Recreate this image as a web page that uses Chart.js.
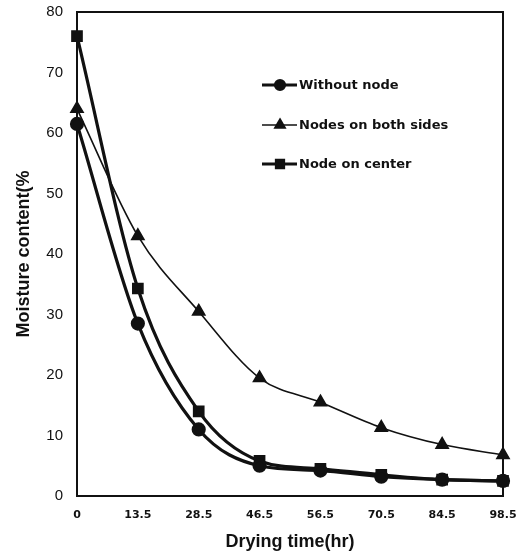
<!DOCTYPE html>
<html>
<head>
<meta charset="utf-8">
<script src="https://cdn.jsdelivr.net/npm/chart.js@4"></script>
<style>
  body { margin: 0; background: #fff; }
  #wrap { width: 522px; height: 557px; }
</style>
</head>
<body>
<div id="wrap"><canvas id="dryChart" width="522" height="557"></canvas></div>
<script>
const hours = ['0', '13.5', '28.5', '46.5', '56.5', '70.5', '84.5', '98.5'];
const withoutNode = [61.5, 28.5, 11, 5, 4.2, 3.2, 2.7, 2.5];
const bothSides = [64, 43, 30.5, 19.5, 15.5, 11.3, 8.5, 6.8];
const centerNode = [76, 34.3, 14, 5.8, 4.5, 3.5, 2.7, 2.5];
const yTicks = [0, 10, 20, 30, 40, 50, 60, 70, 80];

const ctx = document.getElementById('dryChart').getContext('2d');

// box round the plot plus the legend inside it
const framePlugin = {
    id: 'frame',
    afterDraw(chart) {
        const a = chart.chartArea;
        const c = chart.ctx;
        c.save();
        c.strokeStyle = '#111';
        c.lineWidth = 2;
        c.strokeRect(a.left, a.top, a.right - a.left, a.bottom - a.top);

        const rows = [
            { label: 'Without node', ds: 0, y: 85 },
            { label: 'Nodes on both sides', ds: 1, y: 125 },
            { label: 'Node on center', ds: 2, y: 164 }
        ];
        rows.forEach(r => {
            const d = chart.data.datasets[r.ds];
            c.strokeStyle = '#111';
            c.lineWidth = d.borderWidth;
            c.beginPath();
            c.moveTo(262, r.y);
            c.lineTo(297, r.y);
            c.stroke();
            Chart.helpers.drawPoint(c, {
                pointStyle: d.pointStyle,
                radius: d.pointRadius - 1,
                borderWidth: 1
            }, 280, r.y);
            c.fillStyle = '#111';
            c.font = 'bold 13px "DejaVu Sans", sans-serif';
            c.textBaseline = 'middle';
            c.textAlign = 'left';
            c.fillText(r.label, 299, r.y + 1);
        });
        c.restore();
    }
};

const common = {
    borderColor: '#111',
    backgroundColor: '#111',
    pointBorderColor: '#111',
    pointBackgroundColor: '#111',
    cubicInterpolationMode: 'monotone',
    clip: false
};

new Chart(ctx, {
    type: 'line',
    data: {
        labels: hours,
        datasets: [
            Object.assign({}, common, {
                label: 'Without node',
                data: withoutNode,
                borderWidth: 3.2,
                pointStyle: 'circle',
                pointRadius: 5.5
            }),
            Object.assign({}, common, {
                label: 'Nodes on both sides',
                data: bothSides,
                borderWidth: 1.6,
                pointStyle: 'triangle',
                pointRadius: 7
            }),
            Object.assign({}, common, {
                label: 'Node on center',
                data: centerNode,
                borderWidth: 3.2,
                pointStyle: 'rect',
                pointRadius: 6
            })
        ]
    },
    options: {
        responsive: false,
        animation: false,
        layout: { autoPadding: false, padding: { top: 12, right: 19, left: 0, bottom: 0 } },
        plugins: {
            legend: { display: false },
            tooltip: { enabled: false }
        },
        scales: {
            x: {
                type: 'category',
                offset: false,
                grid: { display: false, drawTicks: false },
                border: { display: false },
                ticks: {
                    color: '#111',
                    padding: 13,
                    maxRotation: 0,
                    autoSkip: false,
                    font: { family: '"DejaVu Sans", sans-serif', size: 11, weight: 'bold' }
                },
                title: {
                    display: true,
                    text: 'Drying time(hr)',
                    color: '#111',
                    padding: { top: 9 },
                    font: { family: 'Arial, "Liberation Sans", sans-serif', size: 18, weight: 'bold' }
                },
                afterFit(scale) {
                    scale.height = 61;
                    scale.paddingLeft = 0;
                    scale.paddingRight = 0;
                }
            },
            y: {
                min: 0,
                max: 80,
                afterBuildTicks(scale) { scale.ticks = yTicks.map(v => ({ value: v })); },
                grid: { display: false, drawTicks: false },
                border: { display: false },
                ticks: {
                    color: '#111',
                    padding: 14,
                    font: { family: 'Arial, "Liberation Sans", sans-serif', size: 15 }
                },
                title: {
                    display: true,
                    text: 'Moisture content(%',
                    color: '#111',
                    padding: { top: 13, bottom: 4 },
                    font: { family: 'Arial, "Liberation Sans", sans-serif', size: 18, weight: 'bold' }
                },
                afterFit(scale) {
                    scale.width = 77;
                    scale.paddingTop = 0;
                    scale.paddingBottom = 0;
                }
            }
        }
    },
    plugins: [framePlugin]
});
</script>
</body>
</html>
